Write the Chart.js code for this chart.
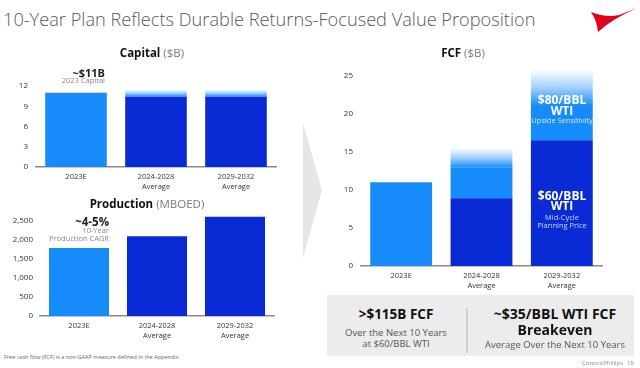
<!DOCTYPE html>
<html>
<head>
<meta charset="utf-8">
<script src="https://cdn.jsdelivr.net/npm/chart.js@4.4.0/dist/chart.umd.min.js"></script>
<style>
  html, body { margin: 0; padding: 0; background: #fff; }
  body { width: 640px; height: 368px; position: relative; overflow: hidden; font-family: "Open Sans", sans-serif; }
  canvas { position: absolute; }
  .t { position: absolute; white-space: nowrap; line-height: 1; transform: translate(-50%, -50%); }
  .r { transform: translate(-100%, -50%); }
  .l { transform: translate(0, -50%); }
  .b { font-weight: 700; }
  .g { color: #7a7a7a; font-weight: 400; }
  .w { color: #fff; }
</style>
</head>
<body>
<div class="t l" style="left:3px;top:19px;font-size:18.2px;font-weight:300;color:#595959;">10-Year Plan Reflects Durable Returns-Focused Value Proposition</div>
<svg style="position:absolute;left:0;top:0" width="640" height="368">
  <path d="M591 12 Q606 18 619 15 L637 8 Q612 19 598 32 Q597 21 591 12 Z" fill="#e3001b"/>
  <polygon points="303,123 322,190 303,258" fill="#e6e6e6"/>
  <rect x="327" y="295" width="307" height="61" fill="#ececec"/>
  <line x1="467" y1="308" x2="467" y2="353" stroke="#b5b5b5" stroke-width="1"/>
</svg>

<canvas id="capital" width="290" height="140" style="left:0;top:60px"></canvas>
<canvas id="production" width="290" height="150" style="left:0;top:200px"></canvas>
<canvas id="fcf" width="290" height="245" style="left:330px;top:55px"></canvas>

<div class="t" style="left:152px;top:53px;font-size:11.5px;color:#111"><span class="b">Capital</span> <span class="g">($B)</span></div>
<div class="t r b" style="left:105px;top:72px;font-size:11px;color:#222">~$11B</div>
<div class="t r" style="left:105px;top:81px;font-size:7.5px;color:#888">2023 Capital</div>

<div class="t" style="left:147px;top:204px;font-size:11.5px;color:#111"><span class="b">Production</span> <span class="g">(MBOED)</span></div>
<div class="t r b" style="left:109px;top:222px;font-size:11.5px;color:#222">~4-5%</div>
<div class="t r" style="left:109px;top:231px;font-size:7.5px;color:#888">10-Year</div>
<div class="t r" style="left:109px;top:239px;font-size:7.5px;color:#888">Production CAGR</div>

<div class="t" style="left:463px;top:53px;font-size:11.5px;color:#111"><span class="b">FCF</span> <span class="g">($B)</span></div>
<div class="t b w" style="left:562px;top:100px;font-size:12px">$80/BBL</div>
<div class="t b w" style="left:562px;top:111px;font-size:12px">WTI</div>
<div class="t" style="left:562px;top:121px;font-size:7.5px;color:#d6e8ff">Upside Sensitivity</div>
<div class="t b w" style="left:562px;top:196px;font-size:12px">$60/BBL</div>
<div class="t b w" style="left:562px;top:206px;font-size:12px">WTI</div>
<div class="t" style="left:562px;top:218px;font-size:7.5px;color:#cfd6ff">Mid-Cycle</div>
<div class="t" style="left:562px;top:226px;font-size:7.5px;color:#cfd6ff">Planning Price</div>

<div class="t b" style="left:396px;top:315px;font-size:13.5px;color:#111">&gt;$115B FCF</div>
<div class="t" style="left:396px;top:333px;font-size:9.5px;color:#555">Over the Next 10 Years</div>
<div class="t" style="left:396px;top:344px;font-size:9.5px;color:#555">at $60/BBL WTI</div>
<div class="t b" style="left:555px;top:314px;font-size:14px;color:#111">~$35/BBL WTI FCF</div>
<div class="t b" style="left:555px;top:330px;font-size:14px;color:#111">Breakeven</div>
<div class="t" style="left:555px;top:345px;font-size:9.5px;color:#555">Average Over the Next 10 Years</div>

<div class="t l" style="left:4px;top:358px;font-size:5.5px;color:#666">Free cash flow (FCF) is a non-GAAP measure defined in the Appendix.</div>
<div class="t l" style="left:582px;top:363px;font-size:6px;color:#888">ConocoPhillips</div>
<div class="t l" style="left:627px;top:363px;font-size:6px;color:#888">18</div>

<script>
// categorias y datos
const categories = [['2023E'], ['2024-2028', 'Average'], ['2029-2032', 'Average']];

const capitalBase = [11, 10.4, 10.4];
const capitalFade = [0, 1.1, 1.1];
const capitalTicks = [0, 3, 6, 9, 12];

const production = [1780, 2090, 2600];
const productionTicks = [0, 500, 1000, 1500, 2000, 2500];

const fcfMid = [11, 8.9, 16.5];
const fcfUpside = [0, 4.0, 4.5];
const fcfFade = [0, 2.6, 4.8];
const fcfTicks = [0, 5, 10, 15, 20, 25];

const LIGHT = 'rgb(22,140,250)';
const DARK = 'rgb(10,42,214)';
const barColors = [LIGHT, DARK, DARK];

Chart.defaults.font.family = '"Open Sans", sans-serif';
Chart.defaults.color = '#333';

// degradado del segmento superior (de azul claro a blanco)
function fadeFill(context) {
    const chart = context.chart;
    if (!chart.chartArea) return LIGHT;
    const i = context.dataIndex;
    const ds = chart.data.datasets;
    let base = 0;
    for (let d = 0; d < context.datasetIndex; d++) base += ds[d].data[i];
    const top = base + ds[context.datasetIndex].data[i];
    const y = chart.scales.y;
    const y0 = y.getPixelForValue(top);
    const y1 = y.getPixelForValue(base);
    if (!isFinite(y0) || y0 === y1) return LIGHT;
    const g = chart.ctx.createLinearGradient(0, y0, 0, y1);
    g.addColorStop(0, 'rgba(22,140,250,0)');
    g.addColorStop(0.5, 'rgba(22,140,250,0.4)');
    g.addColorStop(1, 'rgba(22,140,250,1)');
    return g;
}

function makeChart(id, datasets, yMax, ticks, yWidth, pad, labelPad) {
    return new Chart(document.getElementById(id), {
        type: 'bar',
        data: { labels: categories, datasets },
        options: {
            responsive: false,
            animation: false,
            devicePixelRatio: 1,
            layout: { padding: pad },
            plugins: { legend: { display: false }, tooltip: { enabled: false } },
            datasets: { bar: { categoryPercentage: 1, barPercentage: 0.77, borderWidth: 0 } },
            scales: {
                x: {
                    stacked: true,
                    grid: { display: false, drawTicks: false },
                    border: { display: true, color: '#8a8a8a', width: 1.5 },
                    ticks: { padding: 5, font: { size: 7.5, lineHeight: 1.33 }, color: '#333', maxRotation: 0, autoSkip: false },
                    afterFit: s => { s.height = 30; }
                },
                y: {
                    stacked: true,
                    min: 0,
                    max: yMax,
                    grid: { display: false, drawTicks: false },
                    border: { display: false },
                    afterBuildTicks: s => { s.ticks = ticks.map(v => ({ value: v })); },
                    ticks: {
                        padding: labelPad,
                        font: { size: 8 },
                        color: '#333',
                        callback: v => v.toLocaleString('en-US')
                    },
                    afterFit: s => { s.width = yWidth; }
                }
            }
        }
    });
}

makeChart('capital', [
    { data: capitalBase, backgroundColor: barColors },
    { data: capitalFade, backgroundColor: fadeFill }
], 12, capitalTicks, 36, { top: 26, right: 14, bottom: 3, left: 0 }, 8);

makeChart('production', [
    { data: production, backgroundColor: barColors }
], 2700, productionTicks, 40, { top: 13, right: 16, bottom: 4, left: 0 }, 7);

makeChart('fcf', [
    { data: fcfMid, backgroundColor: barColors },
    { data: fcfUpside, backgroundColor: LIGHT },
    { data: fcfFade, backgroundColor: fadeFill }
], 26, fcfTicks, 31, { top: 7, right: 18, bottom: 4, left: 0 }, 8);
</script>
</body>
</html>
